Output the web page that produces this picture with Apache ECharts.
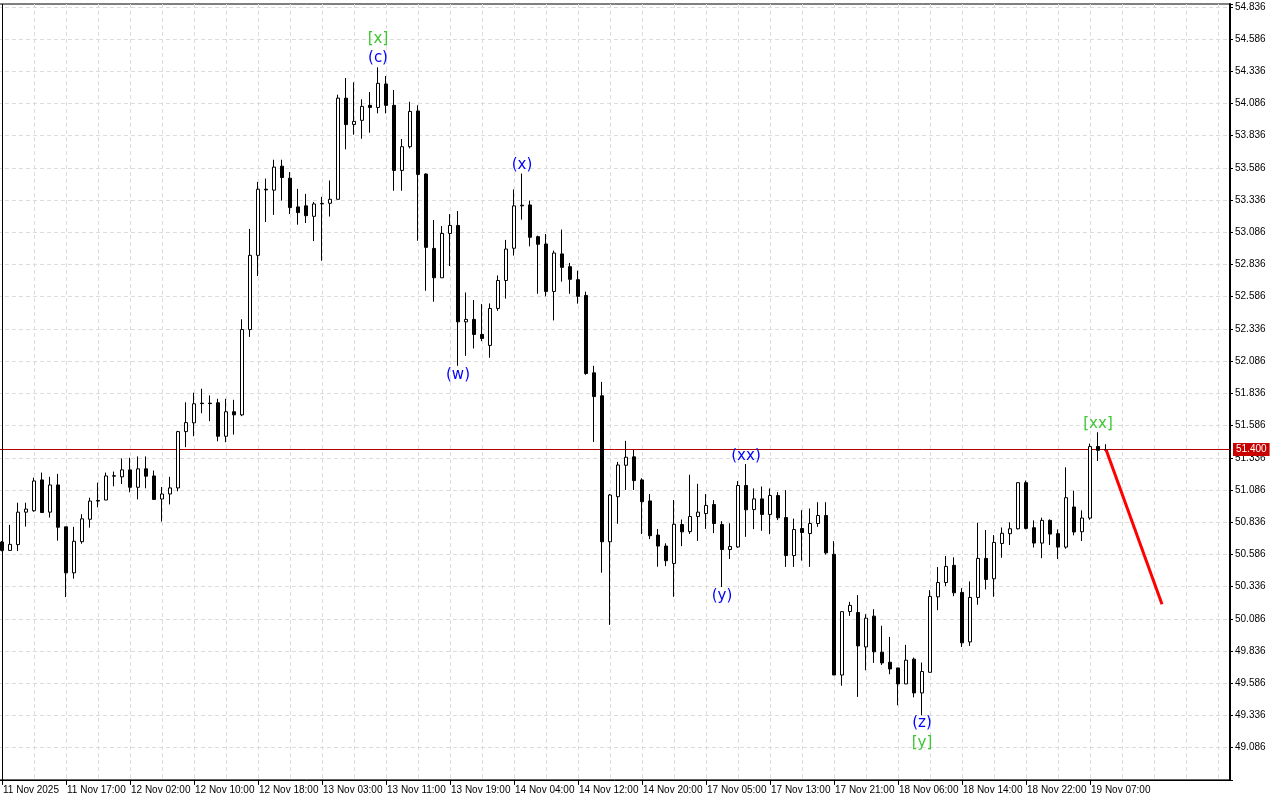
<!DOCTYPE html>
<html>
<head>
<meta charset="utf-8">
<script src="https://cdn.jsdelivr.net/npm/echarts@6/dist/echarts.min.js"></script>
<style>
html,body{margin:0;padding:0;background:#fff;}
#chart{width:1280px;height:800px;}
</style>
</head>
<body>
<div id="chart"></div>
<script>
// ---- Data (H1 candles) ----
const tickLabels = ['11 Nov 2025','11 Nov 17:00','12 Nov 02:00','12 Nov 10:00','12 Nov 18:00','13 Nov 03:00','13 Nov 11:00','13 Nov 19:00','14 Nov 04:00','14 Nov 12:00','14 Nov 20:00','17 Nov 05:00','17 Nov 13:00','17 Nov 21:00','18 Nov 06:00','18 Nov 14:00','18 Nov 22:00','19 Nov 07:00'];

const opens = [50.682,50.617,50.662,50.914,50.925,51.164,50.914,51.125,50.800,50.443,50.685,50.859,51.005,51.008,51.193,51.188,51.242,51.107,51.250,51.195,
51.016,51.055,51.102,51.539,51.607,51.760,51.760,51.763,51.503,51.693,51.669,52.331,52.907,53.420,53.413,53.599,53.506,53.283,53.291,53.210,
53.306,53.311,53.342,54.127,53.923,53.955,54.071,54.055,54.237,54.071,53.566,53.750,54.027,53.538,52.961,52.733,53.077,53.139,52.391,52.410,
52.293,52.208,52.495,52.712,52.962,53.296,53.298,53.052,52.995,52.627,52.918,52.819,52.718,52.596,51.995,51.817,50.684,51.034,51.278,51.343,
51.164,51.001,50.736,50.651,50.516,50.818,50.763,50.880,50.903,50.973,50.818,50.624,50.644,51.121,50.934,51.017,50.896,51.043,50.872,50.577,
50.787,50.748,50.826,50.888,50.587,49.650,50.143,50.135,49.868,50.107,49.827,49.749,49.705,49.581,49.773,49.511,49.671,50.257,50.368,50.501,
50.291,49.907,50.252,50.555,50.397,50.671,50.747,50.785,51.143,50.793,50.674,50.850,50.747,50.643,50.954,50.762,50.868,51.423,51.394];
const closes = [50.617,50.664,50.914,50.938,51.156,50.911,51.125,50.797,50.443,50.688,50.862,51.000,51.000,51.195,51.197,51.242,51.107,51.250,51.193,51.013,
51.055,51.102,51.539,51.609,51.755,51.756,51.756,51.503,51.693,51.669,52.331,52.907,53.420,53.415,53.592,53.511,53.278,53.239,53.215,53.306,
53.310,53.342,54.127,53.922,53.947,54.063,54.055,54.242,54.071,53.566,53.750,54.024,53.535,52.969,52.733,53.077,53.139,52.391,52.410,52.293,
52.262,52.495,52.712,52.956,53.291,53.291,53.047,52.993,52.627,52.925,52.814,52.721,52.589,51.990,51.811,50.684,51.047,51.280,51.340,51.159,
50.995,50.731,50.651,50.537,50.820,50.761,50.880,50.914,50.966,50.826,50.624,50.647,51.121,50.932,51.017,50.896,51.043,50.870,50.577,50.779,
50.756,50.826,50.888,50.598,49.650,50.142,50.190,49.876,50.091,49.830,49.744,49.697,49.581,49.765,49.511,49.677,50.260,50.368,50.493,50.288,
49.900,50.252,50.555,50.392,50.679,50.750,50.785,51.143,50.788,50.674,50.850,50.744,50.643,51.026,50.760,50.868,51.423,51.394,51.400];
const lows = [50.610,50.617,50.612,50.802,50.917,50.911,50.872,50.693,50.255,50.398,50.669,50.794,50.951,51.008,51.115,51.133,51.068,51.013,51.099,51.008,
50.841,50.974,51.076,51.419,51.503,51.682,51.620,51.464,51.457,51.516,51.659,52.274,52.746,53.166,53.221,53.332,53.228,53.145,53.158,53.018,
52.865,53.208,53.342,53.730,53.843,53.812,53.859,54.009,54.009,53.408,53.408,53.737,53.020,52.632,52.547,52.733,52.824,52.050,52.127,52.184,
52.241,52.112,52.477,52.571,52.905,53.184,52.977,52.609,52.589,52.402,52.703,52.609,52.532,51.980,51.459,50.444,50.039,50.824,51.086,51.086,
50.744,50.705,50.490,50.495,50.257,50.650,50.745,50.691,50.784,50.751,50.333,50.551,50.637,50.722,50.782,50.769,50.743,50.852,50.489,50.489,
50.538,50.489,50.800,50.585,49.650,49.567,50.109,49.480,49.687,49.744,49.728,49.656,49.415,49.581,49.477,49.337,49.671,50.153,50.340,50.262,
49.868,49.876,50.195,50.314,50.257,50.560,50.659,50.780,50.780,50.640,50.557,50.659,50.550,50.630,50.734,50.690,50.855,51.311,51.387];
const highs = [50.690,50.815,50.987,50.987,51.182,51.221,51.188,51.211,50.800,50.800,50.898,51.026,51.143,51.221,51.229,51.331,51.336,51.346,51.346,51.237,
51.109,51.188,51.545,51.766,51.841,51.872,51.820,51.794,51.794,51.786,52.411,53.112,53.477,53.503,53.649,53.649,53.553,53.423,53.384,53.322,
53.361,53.488,54.154,54.283,54.250,54.118,54.174,54.366,54.299,54.190,53.810,54.099,54.071,53.543,53.181,53.134,53.227,53.251,52.619,52.560,
52.529,52.534,52.751,53.027,53.418,53.542,53.332,53.060,53.073,52.944,53.107,52.848,52.788,52.625,52.050,51.925,51.055,51.304,51.467,51.397,
51.177,51.055,50.783,50.672,51.008,50.857,51.204,51.134,51.054,51.007,50.844,50.828,51.155,51.287,51.098,51.113,51.098,51.069,51.085,50.864,
50.929,50.942,50.991,50.991,50.689,50.142,50.218,50.270,50.122,50.161,50.032,49.946,49.705,49.884,49.786,49.747,50.309,50.488,50.573,50.563,
50.324,50.376,50.832,50.775,50.736,50.795,50.835,51.143,51.159,50.850,50.871,50.858,50.780,51.262,51.081,50.928,51.446,51.534,51.441];

const bidPrice = 51.400;
const forecastBars = [138, 145];
const forecastPrices = [51.400, 50.200];

const waveTexts  = ['[x]', '(c)', '(w)', '(x)', '(xx)', '(y)', '(z)', '[y]', '[xx]'];
const waveBars   = [47, 47, 57, 65, 93, 90, 115, 115, 137];
const wavePrices = [54.582, 54.439, 51.978, 53.604, 51.350, 50.263, 49.274, 49.122, 51.598];
const waveColors = ['#3cc832','#0000ff','#0000ff','#0000ff','#0000ff','#0000ff','#0000ff','#3cc832','#3cc832'];

const totalSlots = 154;   // bars plus the empty shift area on the right
const lastLabelBar = 136;

// ---- hourly category names (00:00 and weekends have no bars) ----
function buildHours(n) {
  const mon = ['Jan','Feb','Mar','Apr','May','Jun','Jul','Aug','Sep','Oct','Nov','Dec'];
  const out = [];
  let t = Date.UTC(2025, 10, 11, 9);
  while (out.length < n) {
    const d = new Date(t);
    const h = d.getUTCHours(), wd = d.getUTCDay();
    if (h !== 0 && wd !== 0 && wd !== 6) {
      out.push(d.getUTCDate() + ' ' + mon[d.getUTCMonth()] + ' ' + String(h).padStart(2, '0') + ':00');
    }
    t += 3600000;
  }
  return out;
}
const categories = buildHours(totalSlots);

const candleData = opens.map((o, i) => [o, closes[i], lows[i], highs[i]]);
const waveData = waveTexts.map((t, i) => ({
  name: t,
  value: [waveBars[i], wavePrices[i]],
  label: { color: waveColors[i] }
}));
const forecastData = forecastBars.map((b, i) => [b, forecastPrices[i]]);

const yMin = 48.836, yMax = 54.8577, yStep = 0.25;

const chart = echarts.init(document.getElementById('chart'), null, { renderer: 'canvas' });
chart.setOption({
  animation: false,
  backgroundColor: '#ffffff',
  grid: {
    left: -2, right: 50, top: 4, bottom: 20.1,
    containLabel: false, outerBoundsMode: 'none',
    show: true, borderColor: '#000000', borderWidth: 1, backgroundColor: '#ffffff'
  },
  xAxis: {
    type: 'category',
    data: categories,
    boundaryGap: true,
    axisLine: { show: true, lineStyle: { color: '#000000', width: 1 } },
    axisTick: {
      show: true, alignWithLabel: true, length: 5,
      interval: (idx) => idx % 8 === 0 && idx <= lastLabelBar,
      lineStyle: { color: '#000000' }
    },
    axisLabel: {
      show: true,
      interval: (idx) => idx % 8 === 0 && idx <= lastLabelBar,
      formatter: (val, idx) => (idx % 8 === 0 && tickLabels[idx / 8]) ? tickLabels[idx / 8] : '',
      align: 'left',
      margin: 5,
      padding: [0, 0, 0, 1],
      color: '#000000',
      fontFamily: 'Liberation Sans',
      fontSize: 10
    },
    splitLine: {
      show: true, alignWithLabel: true,
      interval: (idx) => idx % 4 === 0,
      lineStyle: { color: '#dcdcdc', type: [4, 3], width: 1 }
    }
  },
  yAxis: {
    type: 'value',
    position: 'right',
    min: yMin, max: yMax, interval: yStep,
    scale: true,
    axisLine: { show: true, lineStyle: { color: '#000000', width: 2 } },
    axisTick: { show: true, length: 3, lineStyle: { color: '#000000' } },
    axisLabel: {
      show: true,
      margin: 5,
      color: '#000000',
      fontFamily: 'Liberation Sans',
      fontSize: 10,
      formatter: (v) => {
        if (Math.abs(v - yMin) < 1e-6 || v > 54.84) return '';
        return v.toFixed(3);
      }
    },
    splitLine: {
      show: true, showMaxLine: false, showMinLine: false,
      lineStyle: { color: '#dcdcdc', type: [4, 3], width: 1 }
    }
  },
  graphic: [{
    type: 'line',
    shape: { x1: 2.5, y1: 4, x2: 2.5, y2: 780 },
    style: { stroke: '#000000', lineWidth: 1 },
    z: 100
  }],
  series: [
    {
      type: 'candlestick',
      data: candleData,
      barWidth: 4,
      itemStyle: {
        color: '#ffffff', color0: '#000000',
        borderColor: '#000000', borderColor0: '#000000', borderWidth: 1
      },
      z: 3,
      markLine: {
        silent: true,
        symbol: ['none', 'none'],
        animation: false,
        lineStyle: { color: '#b30000', width: 1, type: 'solid' },
        label: {
          show: true, position: 'end', distance: 3,
          formatter: () => bidPrice.toFixed(3),
          color: '#ffffff', backgroundColor: '#c80000',
          padding: [2, 3, 1, 3],
          fontFamily: 'Liberation Sans', fontSize: 10
        },
        data: [{ yAxis: bidPrice }],
        z: 2
      }
    },
    {
      type: 'line',
      data: forecastData,
      symbol: 'none',
      lineStyle: { color: '#ff0000', width: 3 },
      z: 5
    },
    {
      type: 'scatter',
      data: waveData,
      symbol: 'circle',
      symbolSize: 1,
      itemStyle: { color: 'rgba(0,0,0,0)', opacity: 1 },
      label: {
        show: true, position: 'inside', opacity: 1,
        formatter: (p) => p.name,
        fontFamily: 'DejaVu Sans', fontSize: 15
      },
      labelLayout: { hideOverlap: false },
      z: 6
    }
  ]
});
</script>
</body>
</html>
